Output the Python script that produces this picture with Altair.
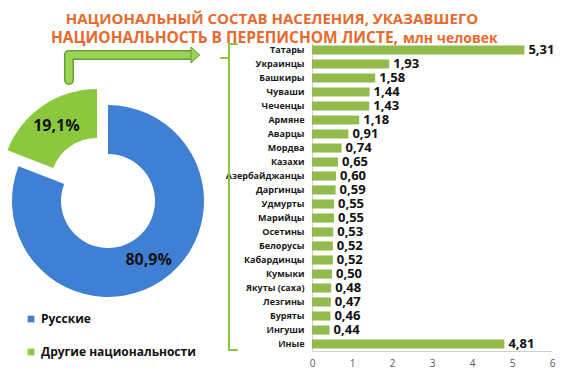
import altair as alt
import pandas as pd

# ---- data ----
categories = ["Татары", "Украинцы", "Башкиры", "Чуваши", "Чеченцы", "Армяне", "Аварцы",
              "Мордва", "Казахи", "Азербайджанцы", "Даргинцы", "Удмурты", "Марийцы",
              "Осетины", "Белорусы", "Кабардинцы", "Кумыки", "Якуты (саха)", "Лезгины",
              "Буряты", "Ингуши", "Иные"]
values = [5.31, 1.93, 1.58, 1.44, 1.43, 1.18, 0.91, 0.74, 0.65, 0.60, 0.59, 0.55, 0.55,
          0.53, 0.52, 0.52, 0.50, 0.48, 0.47, 0.46, 0.44, 4.81]
x_ticks = [0, 1, 2, 3, 4, 5, 6]

pie_names = ["Русские", "Другие национальности"]
pie_values = [80.9, 19.1]
pie_labels = ["80,9%", "19,1%"]

title_line1 = "НАЦИОНАЛЬНЫЙ СОСТАВ НАСЕЛЕНИЯ, УКАЗАВШЕГО"
title_line2a = "НАЦИОНАЛЬНОСТЬ В ПЕРЕПИСНОМ ЛИСТЕ,"
title_line2b = "млн человек"

# ---- styles ----
FONT = "Open Sans"
BLUE = "#3f7fd4"
GREEN = "#8cc83e"
BAR = "#92bb4e"
ORANGE = "#e8692c"
ARROW_FILL = "#98d455"
ARROW_EDGE = "#6a9a34"
BRACE = "#8cc63f"

bar_df = pd.DataFrame({"nat": categories, "mln": values})
pie_df = pd.DataFrame({"group": pie_names, "pct": pie_values, "label": pie_labels,
                       "i": list(range(len(pie_names)))})

# ---- bar chart ----
y_enc = alt.Y("nat:N", sort=categories,
              scale=alt.Scale(paddingInner=0.35, paddingOuter=0.175),
              axis=alt.Axis(title=None, ticks=False, domainColor="#d0d0d0",
                            labelFont=FONT, labelFontSize=9, labelFontWeight="bold",
                            labelColor="#1a1a1a", labelPadding=8))
x_enc = alt.X("mln:Q", scale=alt.Scale(domain=[0, 6], nice=False),
              axis=alt.Axis(title=None, values=x_ticks, tickCount=7, ticks=False, grid=False,
                            labelOverlap=False, labelFlush=False, labelSeparation=0,
                            domainColor="#d0d0d0", labelFont=FONT, labelFontSize=10,
                            labelColor="#595959", labelPadding=7))

bars = alt.Chart(bar_df).mark_bar(color=BAR).encode(y=y_enc, x=x_enc)

bar_text = alt.Chart(bar_df).transform_calculate(
    lab="replace(format(datum.mln, '.2f'), '.', ',')"
).mark_text(align="left", baseline="middle", dx=4, font=FONT, fontSize=13,
            fontWeight="bold", color="#111111").encode(y=y_enc, x=x_enc, text="lab:N")

# ---- donut ----
theta_scale = alt.Scale(domain=[0, 100])
color = alt.Color("group:N", scale=alt.Scale(domain=pie_names, range=[BLUE, GREEN]),
                  legend=alt.Legend(title=None, orient="none", legendX=-287, legendY=270,
                                    symbolType="square", symbolSize=45, symbolStrokeWidth=0,
                                    labelFont=FONT, labelFontSize=12, labelFontWeight="bold",
                                    labelColor="#111111", rowPadding=21, labelOffset=4))

pie_base = alt.Chart(pie_df).transform_window(
    end="sum(pct)", sort=[alt.SortField("i")], frame=[None, 0]
).transform_calculate(
    start="datum.end - datum.pct",
    mid="datum.end - datum.pct / 2",
)

centers = {pie_names[0]: (-204, 158), pie_names[1]: (-215, 142)}

pie_layers = []
for name in pie_names:
    cx, cy = centers[name]
    sub = pie_base.transform_filter(alt.datum.group == name)
    pie_layers.append(sub.mark_arc(innerRadius=47, outerRadius=96).encode(
        theta=alt.Theta("start:Q", scale=theta_scale), theta2="end:Q",
        color=color, x=alt.value(cx), y=alt.value(cy)))
    pie_layers.append(sub.mark_text(radius=72, font=FONT, fontSize=16, fontWeight="bold",
                                    color="#141414").encode(
        theta=alt.Theta("mid:Q", scale=theta_scale), text="label:N",
        x=alt.value(cx), y=alt.value(cy)))

# ---- decorations (title, arrow, brace) ----
one = alt.Data(values=[{"k": 0}])


def rule(x1, y1, x2, y2, col, w):
    return alt.Chart(one).mark_rule(color=col, strokeWidth=w, strokeCap="round").encode(
        x=alt.value(x1), y=alt.value(y1), x2=alt.value(x2), y2=alt.value(y2))


def text(t, x, y, size, align):
    return alt.Chart(one).mark_text(text=t, font=FONT, fontSize=size, fontWeight="bold",
                                    color=ORANGE, align=align, baseline="middle").encode(
        x=alt.value(x), y=alt.value(y))


deco = [
    text(title_line1, -40, -24, 15, "center"),
    text(title_line2a, 86, -5, 15.5, "right"),
    text(title_line2b, 91, -4, 14, "left"),
    rule(-243, 37, -243, 12, ARROW_EDGE, 10),
    rule(-243, 12, -121, 12, ARROW_EDGE, 10),
    rule(-243, 37, -243, 12, ARROW_FILL, 7),
    rule(-243, 12, -121, 12, ARROW_FILL, 7),
    alt.Chart(one).mark_point(shape="M -0.5 -1 L 0.6 0 L -0.5 1 Z", size=256, filled=True,
                              fill=ARROW_FILL, stroke=ARROW_EDGE, strokeWidth=1,
                              opacity=1).encode(x=alt.value(-117), y=alt.value(12)),
    rule(-83, 1, -83, 307, BRACE, 2),
    rule(-83, 1, -75, 1, BRACE, 2),
    rule(-91, 15, -83, 15, BRACE, 2),
    rule(-83, 307, -75, 307, BRACE, 2),
]

chart = alt.layer(*pie_layers, bars, bar_text, *deco).properties(
    width=240, height=308,
    autosize=alt.AutoSizeParams(type="none"),
    padding={"left": 304, "top": 35, "right": 4, "bottom": 19},
    background="white",
).configure_view(stroke=None)

chart.save("out.html", embed_options={"renderer": "svg", "actions": False})
